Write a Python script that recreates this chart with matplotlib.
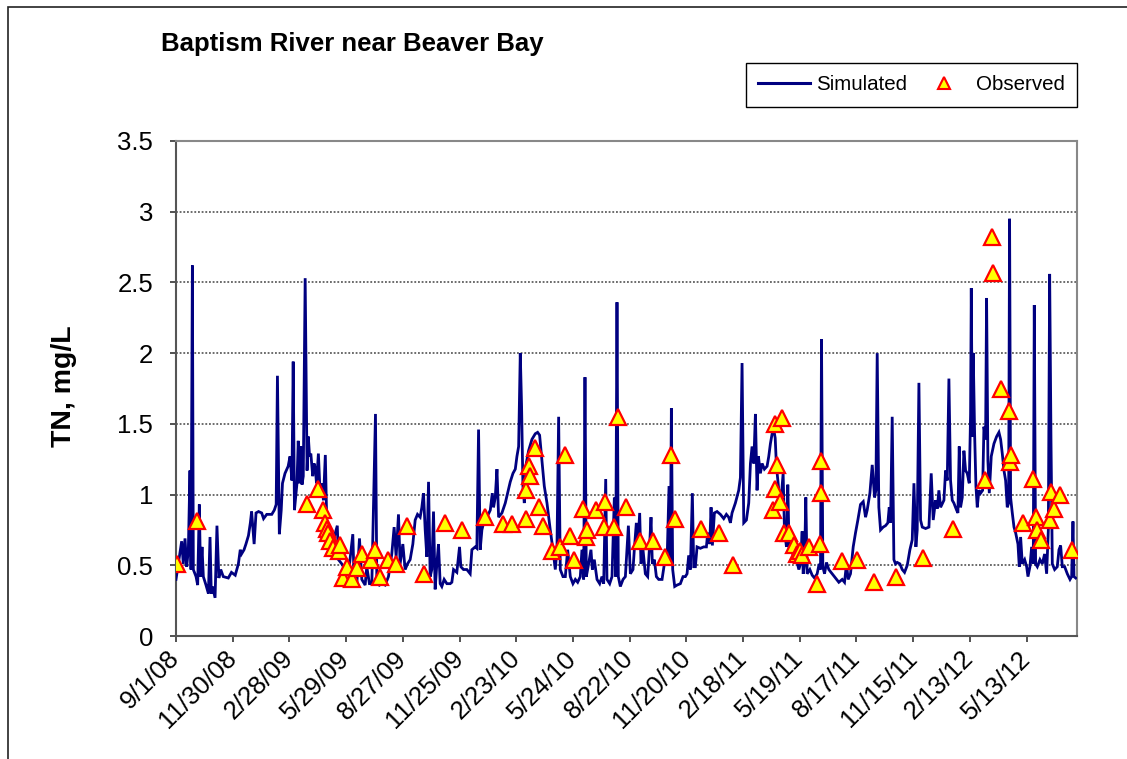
import datetime as dt

import matplotlib
matplotlib.use("Agg")
import matplotlib.pyplot as plt
import matplotlib.dates as mdates
from matplotlib.lines import Line2D
from matplotlib.patches import Rectangle
import numpy as np

plt.rcParams['font.family'] = ['Liberation Sans', 'DejaVu Sans']

"""
Data (days counted from 9/1/08, TN in mg/L)
"""

start = dt.datetime(2008, 9, 1)

sim_day = [0, 9, 11.6, 14.3, 17, 19.6, 22.2, 23.8, 26, 27.5, 31.8, 34.4, 37, 39, 41.3, 43.4,
           47.6, 51.4, 54, 56, 58, 62, 65, 68, 71, 75, 83, 88, 94, 99, 102, 104, 108, 111,
           115, 118, 120, 124, 127, 131, 136, 139, 144, 152, 156, 159, 161, 164, 167, 169,
           173, 178, 181, 184, 186, 188, 192, 194, 196, 198, 200, 202, 205, 208, 210, 212,
           214, 217, 219, 221, 223, 226, 229, 231, 234, 237, 239.3, 244.6, 249.9, 256,
           257.8, 263.1, 268.4, 273.7, 280.6, 282.7, 287, 291.2, 294.9, 300.2, 302.8, 307,
           310.8, 316.6, 318.7, 323, 326.6, 331.9, 337.2, 342.5, 346.2, 349.4, 353.1, 355.7,
           360, 363.7, 367.4, 371.6, 375.9, 379.6, 383.3, 387.5, 390.2, 392.8, 395.5, 398.1,
           400.8, 403.4, 406, 408.7, 411.3, 414, 416.6, 419.3, 421.9, 425.6, 429.9, 435.2,
           437.8, 440.5, 445.7, 450, 452.1, 456.3, 461.6, 466.9, 469.6, 474.9, 477.5, 480.2,
           482.8, 485.5, 488.2, 493.5, 498.8, 502, 504, 506.7, 509.4, 512, 517.3, 522.6,
           526.3, 530.5, 534.8, 538.5, 541.1, 543.8, 546.4, 548.5, 550.6, 552.8, 555.9,
           559.6, 564.9, 570.2, 573.9, 577.1, 580.8, 584.5, 588.8, 594, 598.3, 602, 604.6,
           607.3, 609.9, 614.2, 617.9, 621.6, 625.8, 630, 633.8, 637.5, 641.7, 644.3, 647,
           649.1, 651.2, 654.9, 658.6, 660.8, 663.9, 668.2, 672.4, 676.1, 678.8, 682, 684,
           688.3, 692, 695.7, 697.8, 699.9, 702, 705.2, 709.5, 713.2, 718, 721.1, 725.3,
           727.4, 730.6, 732.7, 735.9, 738, 741.2, 744.9, 748.6, 751.8, 753.9, 756, 759.2,
           762.4, 766.1, 771.4, 775.1, 779.3, 782.5, 784.6, 786.2, 788.3, 791.5, 795.2,
           800.5, 804.7, 808.4, 811.1, 813.7, 816.4, 819.5, 821.7, 824.3, 827, 832.2, 837.5,
           841.8, 843.9, 847.1, 849.2, 851.3, 854.5, 858.7, 864, 869.3, 873.5, 877.2, 879.9,
           882.5, 887.8, 893.1, 895.8, 898.4, 901.1, 905.3, 909, 911.7, 914.3, 917, 919.6,
           922.2, 924.4, 927.5, 930.2, 933.9, 938.1, 940.8, 943.4, 946.1, 948.7, 951, 953,
           956.7, 959.4, 963.6, 965.7, 968.9, 971, 973.1, 976.3, 980.6, 984.8, 988.5, 991.1,
           993.8, 995.4, 997.5, 999.6, 1001.7, 1006, 1009.7, 1013.4, 1017.6, 1020.8, 1022.9,
           1024.5, 1026.6, 1029.3, 1032.4, 1036.1, 1041.4, 1046.7, 1052, 1057.3, 1061,
           1064.2, 1066.8, 1070.5, 1074.8, 1078.5, 1082.2, 1086.4, 1090.7, 1094.4, 1097,
           1101.3, 1105, 1108.7, 1110.8, 1112.9, 1115.5, 1118.2, 1122.4, 1126.1, 1129.8,
           1132, 1134.1, 1136.7, 1139.4, 1142, 1144.7, 1148.9, 1152.6, 1156.3, 1160.6,
           1164.8, 1168.5, 1171.2, 1174.3, 1176.4, 1179.1, 1181.7, 1184.4, 1189.7, 1195,
           1198.6, 1201.8, 1205.5, 1208.2, 1210.8, 1213.5, 1218.8, 1221.4, 1224.1, 1226.7,
           1229.3, 1232, 1234.6, 1238.9, 1241, 1243.1, 1245.2, 1247.9, 1250.5, 1253.2,
           1255.8, 1259, 1261.1, 1262.2, 1263.8, 1265.3, 1267.5, 1269.6, 1271.7, 1274.3,
           1277, 1280.2, 1282.3, 1284.9, 1286.5, 1288.6, 1290.8, 1293.9, 1298.2, 1302.4,
           1306.1, 1308.8, 1311.4, 1314.1, 1316.7, 1319.3, 1321.5, 1323, 1324.6, 1327.3,
           1330, 1332.6, 1336.3, 1338.4, 1340.5, 1343.2, 1346.9, 1350.1, 1352.2, 1355.3,
           1358, 1360.6, 1362.2, 1364.3, 1367, 1371.2, 1374.9, 1378.6, 1381.8, 1384.5,
           1386.6, 1388.7, 1390.8, 1394.5, 1398.7, 1401.4, 1404, 1406.7, 1410.4, 1414.6,
           1418.9, 1421.5, 1423.6, 1425.2, 1427.9]

sim_tn = [0.40, 0.67, 0.51, 0.69, 0.49, 0.61, 1.17, 0.47, 2.62, 0.47, 0.42, 0.36, 0.93, 0.42,
          0.63, 0.42, 0.36, 0.30, 0.70, 0.30, 0.35, 0.27, 0.78, 0.41, 0.47, 0.42, 0.41, 0.45,
          0.43, 0.51, 0.61, 0.58, 0.61, 0.65, 0.71, 0.80, 0.88, 0.65, 0.87, 0.88, 0.87, 0.83,
          0.86, 0.86, 0.89, 0.93, 1.84, 0.72, 0.89, 1.08, 1.15, 1.20, 1.27, 1.10, 1.94, 0.89,
          1.08, 1.38, 1.08, 1.34, 1.07, 1.13, 2.53, 1.17, 1.41, 1.27, 1.29, 1.13, 1.22, 1.19,
          1.08, 1.29, 0.98, 1.08, 0.96, 1.28, 0.80, 0.75, 0.68, 0.78, 0.54, 0.51, 0.47, 0.44,
          0.72, 0.40, 0.37, 0.69, 0.40, 0.36, 0.49, 0.37, 0.37, 1.57, 0.40, 0.36, 0.37, 0.36,
          0.42, 0.58, 0.77, 0.56, 0.86, 0.51, 0.65, 0.47, 0.51, 0.54, 0.65, 0.82, 0.86, 0.84,
          0.91, 1.01, 0.75, 0.56, 1.09, 0.42, 0.47, 0.88, 0.33, 0.51, 0.65, 0.37, 0.35, 0.40,
          0.37, 0.37, 0.38, 0.47, 0.45, 0.63, 0.49, 0.47, 0.47, 0.44, 0.61, 0.63, 0.62, 1.46,
          0.61, 0.75, 0.80, 0.84, 0.89, 1.01, 0.91, 0.98, 1.18, 0.84, 0.87, 0.94, 1.01, 1.09,
          1.15, 1.18, 1.27, 1.34, 2.00, 1.62, 1.06, 0.94, 1.22, 1.31, 1.39, 1.43, 1.44, 1.42,
          1.24, 1.06, 0.94, 0.75, 0.61, 0.47, 0.61, 1.55, 0.47, 0.42, 0.42, 0.61, 0.42, 0.37,
          0.40, 0.38, 0.42, 0.61, 0.40, 1.83, 0.42, 0.51, 0.61, 0.47, 0.54, 0.40, 0.37, 0.42,
          0.37, 1.11, 0.40, 0.37, 0.42, 0.98, 0.42, 2.36, 0.42, 0.35, 0.40, 0.42, 0.78, 0.44,
          0.47, 0.61, 0.80, 0.61, 0.87, 0.51, 0.61, 0.44, 0.42, 0.65, 0.84, 0.51, 0.54, 0.42,
          0.40, 0.40, 0.51, 0.51, 1.06, 0.51, 1.61, 0.47, 0.35, 0.36, 0.37, 0.42, 0.42, 0.44,
          0.57, 0.47, 1.01, 0.49, 0.49, 0.63, 0.62, 0.63, 0.63, 0.73, 0.65, 0.91, 0.64, 0.87,
          0.88, 0.86, 0.83, 0.86, 0.84, 0.80, 0.87, 0.94, 1.03, 1.12, 1.93, 0.80, 0.82, 0.94,
          1.22, 1.34, 1.22, 1.57, 1.03, 1.27, 1.15, 1.22, 1.18, 1.20, 1.27, 1.36, 1.43, 1.46,
          1.40, 1.20, 1.03, 0.91, 1.15, 0.75, 0.63, 1.07, 0.61, 0.61, 0.56, 0.54, 0.47, 0.51,
          0.74, 0.44, 0.51, 0.98, 0.44, 0.47, 0.43, 0.41, 0.44, 0.51, 0.47, 2.10, 0.49, 0.44,
          0.52, 0.47, 0.44, 0.41, 0.38, 0.40, 0.38, 0.51, 0.40, 0.44, 0.63, 0.73, 0.82, 0.93,
          0.95, 0.84, 0.89, 1.01, 1.21, 0.98, 1.03, 2.00, 0.91, 0.75, 0.77, 0.78, 0.80, 0.91,
          0.80, 1.55, 0.54, 0.51, 0.52, 0.51, 0.47, 0.45, 0.50, 0.61, 0.68, 1.08, 0.63, 0.75,
          1.79, 0.82, 0.77, 0.76, 0.77, 1.15, 0.82, 0.96, 0.90, 1.03, 0.91, 0.96, 1.17, 1.10,
          1.82, 1.10, 0.96, 0.94, 0.89, 0.87, 1.34, 0.91, 0.98, 1.31, 1.17, 1.15, 1.08, 1.57,
          2.46, 1.41, 2.00, 1.43, 1.06, 0.91, 1.03, 1.01, 1.03, 1.48, 1.39, 2.39, 1.24, 1.01,
          1.27, 1.36, 1.41, 1.44, 1.39, 1.29, 1.17, 1.10, 0.91, 0.94, 2.95, 0.98, 0.87, 0.77,
          0.73, 0.65, 0.49, 0.70, 0.51, 0.54, 0.49, 0.42, 0.49, 0.63, 0.51, 2.34, 0.51, 0.49,
          0.54, 0.51, 0.58, 0.44, 0.75, 2.56, 1.39, 0.51, 0.47, 0.49, 0.61, 0.64, 0.49, 0.49,
          0.44, 0.40, 0.42, 0.81, 0.42, 0.41]

obs_day = [1, 34, 208, 226, 233, 236.6, 239.3, 242, 244.6, 249.9, 258, 260.5, 265.8, 271,
           279, 287, 295, 309, 316, 323, 337, 349, 366, 394, 427, 453.7, 490.8, 518.9, 533.2,
           555.9, 555.9, 559.6, 561.2, 569.2, 575.5, 582.4, 596.7, 609.9, 617.9, 624.8, 631.1,
           645.9, 651.2, 652.3, 667.1, 678.8, 681.4, 694.6, 701.5, 714.7, 735.9, 756.6, 776.7,
           785.7, 792.5, 833.3, 861.4, 884.1, 947.7, 951.4, 951.4, 954.1, 958.3, 962, 964.7,
           972.6, 980.6, 985.9, 990, 993.8, 1004.4, 1017.6, 1021.8, 1024, 1024, 1057.3,
           1080.1, 1107.6, 1142, 1186, 1233.6, 1283.3, 1294.5, 1296.6, 1308.8, 1322.5,
           1323.6, 1324.6, 1344.8, 1360.6, 1365.4, 1367, 1372.3, 1387.1, 1388.2, 1393.5,
           1402.4, 1421.5]

obs_tn = [0.51, 0.81, 0.93, 1.04, 0.89, 0.80, 0.76, 0.73, 0.67, 0.62, 0.60, 0.64, 0.41, 0.49,
          0.40, 0.48, 0.58, 0.54, 0.61, 0.42, 0.54, 0.51, 0.78, 0.44, 0.80, 0.75, 0.84, 0.79,
          0.79, 0.83, 1.03, 1.20, 1.13, 1.33, 0.91, 0.78, 0.60, 0.63, 1.28, 0.71, 0.54, 0.90,
          0.70, 0.75, 0.89, 0.77, 0.95, 0.77, 1.55, 0.91, 0.67, 0.67, 0.56, 1.28, 0.83, 0.76,
          0.73, 0.50, 0.89, 1.04, 1.50, 1.21, 0.95, 1.54, 0.73, 0.73, 0.64, 0.58, 0.60, 0.57,
          0.63, 0.37, 0.65, 1.24, 1.01, 0.53, 0.54, 0.38, 0.42, 0.55, 0.76, 1.10, 2.82, 2.57,
          1.75, 1.59, 1.23, 1.28, 0.80, 1.11, 0.84, 0.75, 0.68, 0.82, 1.02, 0.90, 1.00, 0.61]

y_ticks = [0, 0.5, 1, 1.5, 2, 2.5, 3, 3.5]
y_labels = ['0', '0.5', '1', '1.5', '2', '2.5', '3', '3.5']

"""
Plot
"""

t0 = mdates.date2num(start)
sim_x = t0 + np.array(sim_day)
obs_x = t0 + np.array(obs_day)

fig = plt.figure(figsize=(11.27, 7.59), dpi=100)

# chart area border (runs off the right and bottom edges)
fig.patches.append(Rectangle((8 / 1127, -0.1), 1.2, 1.1 - 7 / 759, transform=fig.transFigure,
                             fill=False, edgecolor='#222222', lw=1.2, clip_on=False))

ax = fig.add_axes([176 / 1127, 1 - 636 / 759, 901 / 1127, 495 / 759])

ax.plot(sim_x, sim_tn, color='#000080', lw=2.0, zorder=3, solid_joinstyle='miter')
ax.plot(obs_x, obs_tn, ls='none', marker='^', ms=11, mfc='#FFFF00', mec='#FF0000',
        mew=1.6, zorder=4)

ax.set_ylim(0, 3.5)
ax.set_xlim(t0, t0 + 1430)
ax.set_yticks(y_ticks)
ax.set_yticklabels(y_labels)

ticks = [t0 + 90 * k for k in range(16)]
ax.set_xticks(ticks)
tick_dates = mdates.num2date(ticks)
ax.set_xticklabels([f"{d.month}/{d.day}/{d.year % 100:02d}" for d in tick_dates],
                   rotation=45, ha='right', va='center', rotation_mode='anchor')

ax.tick_params(axis='both', labelsize=18.5, length=4.5, width=1.2, direction='out',
               color='#333333')
ax.tick_params(axis='x', pad=9)
ax.tick_params(axis='y', pad=12)

ax.yaxis.grid(True, ls=(0, (1.2, 1.2)), color='#444444', lw=1.1)
ax.set_axisbelow(True)

for side in ['top', 'right']:
    ax.spines[side].set_color('#888888')
    ax.spines[side].set_linewidth(1.5)
for side in ['left', 'bottom']:
    ax.spines[side].set_color('#555555')
    ax.spines[side].set_linewidth(1.5)

fig.text(161 / 1127, 1 - 44 / 759, 'Baptism River near Beaver Bay', fontsize=18.5,
         fontweight='bold', ha='left', va='center')
fig.text(64 / 1127, 1 - 386 / 759, 'TN, mg/L', fontsize=20.5, fontweight='bold',
         rotation=90, ha='center', va='center')

handles = [Line2D([], [], color='#000080', lw=2.2),
           Line2D([], [], ls='none', marker='^', ms=8, mfc='#FFFF00', mec='#FF0000', mew=1.5)]
leg = ax.legend(handles, ['Simulated', 'Observed'], loc='upper right', ncol=2,
                bbox_to_anchor=(1077 / 1127, 1 - 63 / 759), bbox_transform=fig.transFigure,
                borderaxespad=0, fontsize=14.8, frameon=True, fancybox=False,
                edgecolor='black', framealpha=1, handlelength=2.5, columnspacing=0.55,
                borderpad=0.6, handletextpad=0.3)
leg.get_frame().set_linewidth(1.0)

fig.savefig('out.png', dpi=100)
